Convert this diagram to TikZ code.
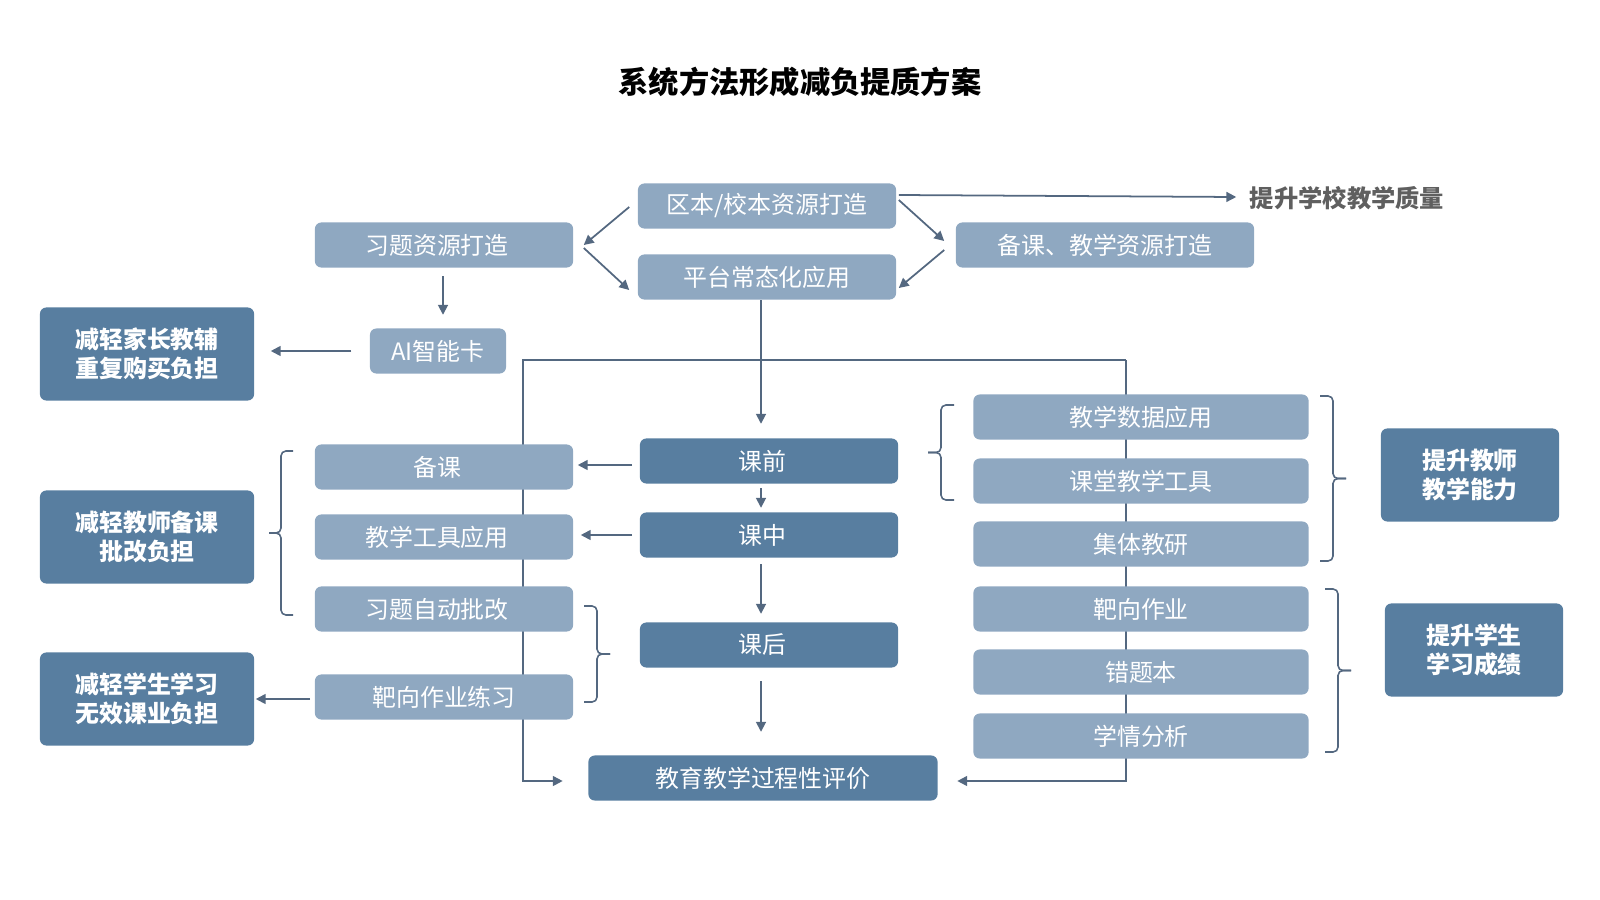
\documentclass[tikz,border=0pt]{standalone}
\usepackage{fontspec}
\setmainfont{Noto Sans CJK SC}
\usetikzlibrary{backgrounds}
\usetikzlibrary{positioning, calc, arrows.meta}
\definecolor{boxdark}{RGB}{88,126,160}
\definecolor{boxlight}{RGB}{143,168,193}
\definecolor{linkcol}{RGB}{84,104,128}
\definecolor{goalgray}{RGB}{95,95,95}
\tikzset{box/.style={rounded corners=1.8pt, text=white, align=center, inner sep=0pt,
  font=\fontsize{6.8pt}{8.2pt}\selectfont}}
\tikzset{light/.style={box, fill=boxlight, minimum width=2.58cm, minimum height=0.45cm}}
\tikzset{dark/.style={box, fill=boxdark, minimum width=2.58cm, minimum height=0.45cm}}
\tikzset{result/.style={box, fill=boxdark, minimum width=2.14cm, minimum height=0.93cm,
  font=\fontsize{6.8pt}{8.1pt}\selectfont\bfseries}}
\tikzset{lshift/.style={execute at begin node=\hspace*{-0.14cm}}}
\tikzset{link/.style={draw=linkcol, line width=0.5pt, -{Triangle[length=2.8pt,width=2.8pt]}}}
\tikzset{bracket/.style={draw=linkcol, line width=0.45pt, rounded corners=1.4pt}}
% brace: x of the ends, top y, bottom y, signed hook length
\newcommand{\brk}[4]{%
  \draw[bracket] (#1,#2) -- ++(#4,0) -- ({#1+#4},{(#2+#3)/2}) -- ({#1+2*#4},{(#2+#3)/2});
  \draw[bracket] (#1,#3) -- ++(#4,0) -- ({#1+#4},{(#2+#3)/2}) -- ({#1+2*#4},{(#2+#3)/2});}

\begin{document}
\begin{tikzpicture}[x=0.01cm, y=-0.01cm]
  \useasboundingbox (0,0) rectangle (1600,900);

  \node[font=\fontsize{8.6pt}{10pt}\selectfont\bfseries] (head) at (800,82) {系统方法形成减负提质方案};

  \node[light] (qb) at (767,206) {区本/校本资源打造};
  \node[light] (pt) at (767,277) {平台常态化应用};
  \node[light, lshift] (xt) at (444,245) {习题资源打造};
  \node[light, minimum width=2.98cm] (bz) at (1105,245) {备课、教学资源打造};
  \node[text=goalgray, inner sep=0pt, font=\fontsize{6.9pt}{8pt}\selectfont\bfseries] (zl) at (1347,198) {提升学校教学质量};
  \node[light, minimum width=1.36cm] (ai) at (438,351) {AI智能卡};

  \node[result] (jz) at (147,354) {减轻家长教辅\\重复购买负担};
  \node[result] (js) at (147,537) {减轻教师备课\\批改负担};
  \node[result] (jx) at (147,699) {减轻学生学习\\无效课业负担};
  \node[result, minimum width=1.78cm] (tj) at (1470,475) {提升教师\\教学能力};
  \node[result, minimum width=1.78cm] (ts) at (1474,650) {提升学生\\学习成绩};

  \node[dark, lshift] (kq) at (769,461) {课前};
  \node[dark, lshift] (kz) at (769,535) {课中};
  \node[dark, lshift] (kh) at (769,645) {课后};
  \node[dark, minimum width=3.49cm] (pj) at (763,778) {教育教学过程性评价};

  \node[light, lshift] (bk) at (444,467) {备课};
  \node[light, lshift] (gj) at (444,537) {教学工具应用};
  \node[light, lshift] (zp) at (444,609) {习题自动批改};
  \node[light] (bx) at (444,697) {靶向作业练习};

  \node[light, minimum width=3.35cm] (sj) at (1141,417) {教学数据应用};
  \node[light, minimum width=3.35cm] (kt) at (1141,481) {课堂教学工具};
  \node[light, minimum width=3.35cm] (jy) at (1141,544) {集体教研};
  \node[light, minimum width=3.35cm] (ba) at (1141,609) {靶向作业};
  \node[light, minimum width=3.35cm] (ct) at (1141,672) {错题本};
  \node[light, minimum width=3.35cm] (xq) at (1141,736) {学情分析};

  % resource arrows
  \draw[link] ($(qb.west)+(-8,1)$) -- ($(xt.east)+(10,0)$);
  \draw[link] ($(xt.east)+(10,3)$) -- ($(pt.west)+(-8,13)$);
  \draw[link] ($(qb.east)+(2,-6)$) -- ($(bz.west)+(-11,-4)$);
  \draw[link] ($(bz.west)+(-11,5)$) -- ($(pt.east)+(2,11)$);
  \draw[link] ($(qb.east)+(2,-11)$) -- ($(zl.west)+(-13,-1)$);
  \draw[link] ($(xt.south)+(-1,8)$) -- ($(ai.north)+(5,-13)$);
  \draw[link] ($(ai.west)+(-18,0)$) -- ($(jz.east)+(16,-3)$);

  % lesson chain
  \draw[link] ($(pt.south)+(-6,0)$) -- ($(kq.north)+(-8,-14)$);
  \draw[link] ($(kq.south)+(-8,4)$) -- ($(kz.north)+(-8,-4)$);
  \draw[link] ($(kz.south)+(-8,6)$) -- ($(kh.north)+(-8,-8)$);
  \draw[link] ($(kh.south)+(-8,13)$) -- ($(pj.north)+(-2,-23)$);
  \draw[link] ($(kq.west)+(-7,4)$) -- ($(bk.east)+(4,-2)$);
  \draw[link] ($(kz.west)+(-7,0)$) -- ($(gj.east)+(7,-2)$);
  \draw[link] ($(bx.west)+(-4,2)$) -- ($(jx.east)+(1,0)$);

  \begin{scope}[on background layer]
    \coordinate (lp) at (523,360);
    \coordinate (rp) at (1126,360);
    \draw[link] (rp) -- (lp) |- ($(pj.west)+(-25,3)$);
    \draw[link] (rp) |- ($(pj.east)+(19,3)$);
  \end{scope}

  % braces
  \brk{293}{451}{615}{-12}
  \brk{584}{606}{702}{13}
  \brk{954}{405}{500}{-13}
  \brk{1320}{396}{561}{13}
  \brk{1325}{589}{752}{13}

\end{tikzpicture}
\end{document}
